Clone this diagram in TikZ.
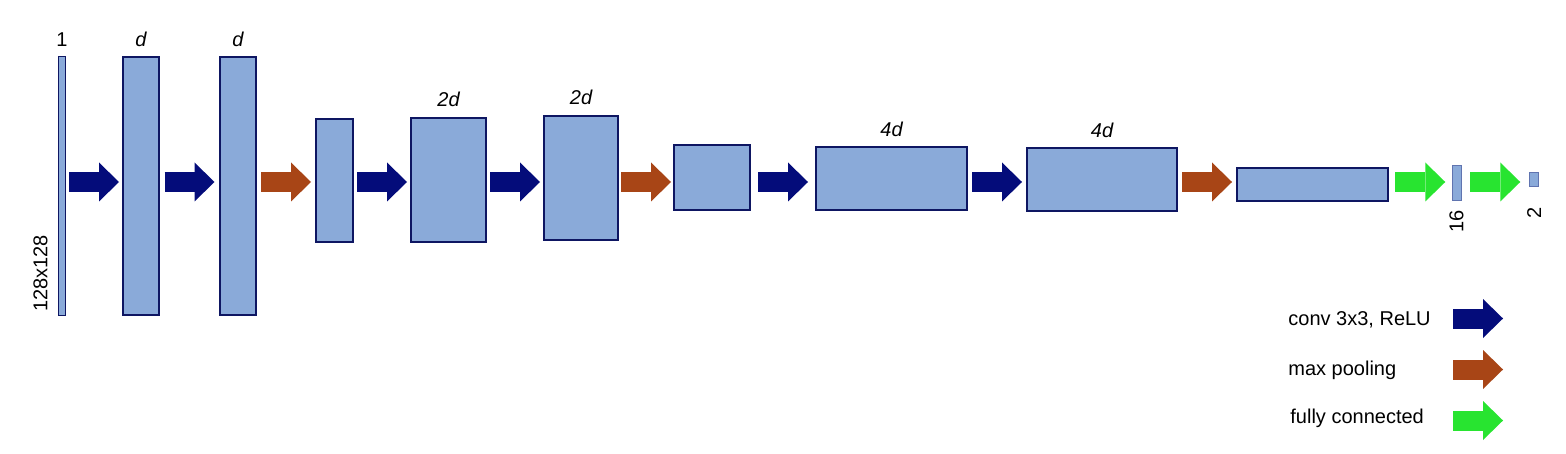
\documentclass[tikz,border=0pt]{standalone}
\usepackage{fontspec}
\setmainfont{Liberation Sans}
\usetikzlibrary{arrows.meta,positioning,calc}
\definecolor{layerfill}{RGB}{138,170,217}
\definecolor{layeredge}{RGB}{14,22,98}
\definecolor{thinedge}{RGB}{96,116,176}
\definecolor{convblue}{RGB}{4,12,122}
\definecolor{poolbrown}{RGB}{168,69,22}
\definecolor{fcgreen}{RGB}{40,228,48}
% fat arrow halfway between two layers, on the common axis
\newcommand\fatarrow[3]{%
	\path (#2.east) -- coordinate[midway] (mid) (#3.west);
	\draw[#1] (mid |- axis) ++(-12.5pt,0) -- ++(25pt,0);}
\begin{document}
\begin{tikzpicture}[x=0.5pt, y=-0.5pt, font=\fontsize{10}{12}\selectfont,
	layer/.style 2 args={draw=layeredge, fill=layerfill, line width=1pt, inner sep=0pt, minimum width=#1, minimum height=#2},
	thin/.style={line width=0.5pt},
	fat/.style={line width=10pt, -{Triangle[length=10pt, width=19.5pt, line width=0pt]}},
	conv/.style={fat, draw=convblue},
	pool/.style={fat, draw=poolbrown},
	fc/.style={fat, draw=fcgreen},
	lbl/.style={inner sep=0pt},
	dim/.style={inner sep=0pt, rotate=90}]
	\useasboundingbox (0,0) rectangle (1566,454);
	\coordinate (axis) at (0,182);
	% layers
	\node[layer={3.5pt}{129.5pt}, thin] (l1) at (62,186) {};
	\node[layer={18pt}{129pt}] (l2) at (141,186) {};
	\node[layer={18pt}{129pt}] (l3) at (238,186) {};
	\node[layer={18.5pt}{61.5pt}] (l4) at (334.5,180.5) {};
	\node[layer={37.5pt}{62pt}] (l5) at (448.5,180) {};
	\node[layer={37pt}{62pt}] (l6) at (581,178) {};
	\node[layer={38pt}{32.5pt}] (l7) at (712,177.5) {};
	\node[layer={75.5pt}{31.5pt}] (l8) at (891.5,178.5) {};
	\node[layer={75pt}{31.5pt}] (l9) at (1102,179.5) {};
	\node[layer={75.5pt}{16.5pt}] (l10) at (1312.5,184.5) {};
	\node[layer={4.5pt}{17.5pt}, thin, draw=thinedge] (l11) at (1456.5,183) {};
	\node[layer={4.5pt}{7pt}, thin, draw=thinedge] (l12) at (1534,179.5) {};
	% depth labels
	\node[lbl, above=4.5pt of l1] (c1) {1};
	\node[lbl, above=4.5pt of l2] (c2) {\itshape d};
	\node[lbl, above=4.5pt of l3] (c3) {\itshape d};
	\node[lbl, above=5pt of l5] (c5) {\itshape 2d};
	\node[lbl, above=5pt of l6] (c6) {\itshape 2d};
	\node[lbl, above=4.5pt of l8] (c8) {\itshape 4d};
	\node[lbl, above=4.5pt of l9] (c9) {\itshape 4d};
	\node[dim, anchor=south west] (size) at ([xshift=-5pt, yshift=2pt]l1.south west) {128x128};
	\node[dim, anchor=east] (n16) at ([yshift=-4.5pt]l11.south) {16};
	\node[dim, anchor=east] (n2) at ([yshift=-10pt]l12.south) {2};
	% connections
	\fatarrow{conv}{l1}{l2}
	\fatarrow{conv}{l2}{l3}
	\fatarrow{pool}{l3}{l4}
	\fatarrow{conv}{l4}{l5}
	\fatarrow{conv}{l5}{l6}
	\fatarrow{pool}{l6}{l7}
	\fatarrow{conv}{l7}{l8}
	\fatarrow{conv}{l8}{l9}
	\fatarrow{pool}{l9}{l10}
	\fatarrow{fc}{l10}{l11}
	\fatarrow{fc}{l11}{l12}
	% legend
	\node[lbl, anchor=base west] (tconv) at (1288,325) {conv 3x3, ReLU};
	\node[lbl, anchor=base west] (tpool) at (1288,375) {max pooling};
	\node[lbl, anchor=base west] (tfc) at (1290,423) {fully connected};
	\coordinate (kconv) at (1453,318.5);
	\coordinate (kpool) at (1453,369.5);
	\coordinate (kfc) at (1453,420.5);
	\draw[conv] (kconv) -- ++(25pt,0);
	\draw[pool] (kpool) -- ++(25pt,0);
	\draw[fc] (kfc) -- ++(25pt,0);
\end{tikzpicture}
\end{document}
